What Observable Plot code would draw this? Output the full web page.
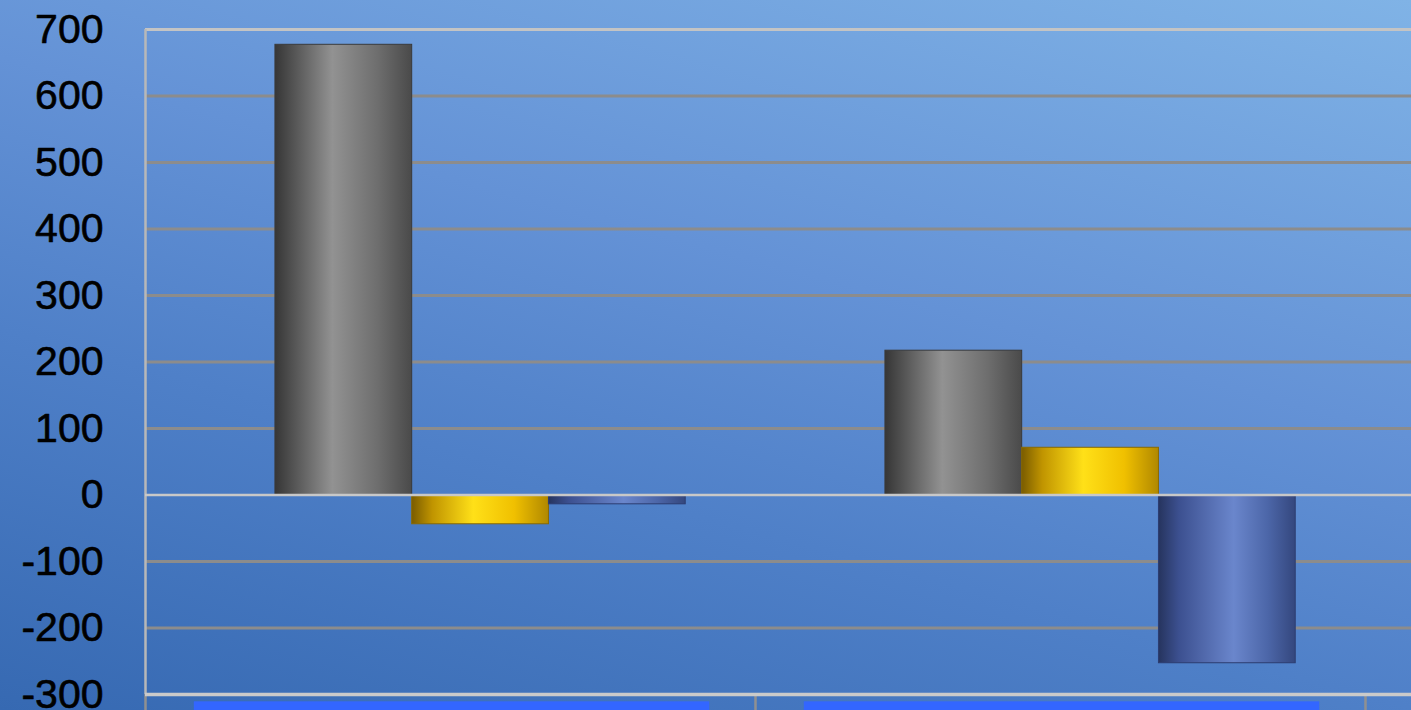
<!DOCTYPE html>
<html>
<head>
<meta charset="utf-8">
<script src="https://cdn.jsdelivr.net/npm/d3@7"></script>
<script src="https://cdn.jsdelivr.net/npm/@observablehq/plot@0.6"></script>
<style>
  html, body { margin: 0; padding: 0; overflow: hidden; }
  #chart svg { display: block; }
</style>
</head>
<body>
<div id="chart"></div>
<script>
// ---- data ----
const categories = ["Group 1", "Group 2"];
const series = ["Series 1", "Series 2", "Series 3"];
const values = [
  [677, -44, -14],   // Group 1
  [217, 71, -253]    // Group 2
];
const yTicks = [-300, -200, -100, 0, 100, 200, 300, 400, 500, 600, 700];

// ---- derived table ----
const groupPad = 0.213;   // fraction of a category band before the first bar
const barW = 0.2242;      // bar width as fraction of category band
const rows = [];
categories.forEach((c, g) => {
  series.forEach((s, i) => {
    rows.push({category: c, series: s, si: i, value: values[g][i],
               x1: g + groupPad + i * barW, x2: g + groupPad + (i + 1) * barW});
  });
});
const labelBoxes = categories.map((c, g) => ({category: c, x1: g + 0.08, x2: g + 0.925}));

const W = 1411, H = 710, mL = 145, mT = 29, mB = 16;
const band = 610;
const xMax = (W - mL) / band;

const grads = ["gGray", "gGold", "gBlue"];
const strokes = ["#3a3a3a", "#8a6a00", "#2c3c70"];

const chart = Plot.plot({
  width: W,
  height: H,
  marginLeft: mL,
  marginRight: 0,
  marginTop: mT,
  marginBottom: mB,
  style: {
    background: "linear-gradient(15deg, #3669b2 0%, #4f80c8 35%, #6492d6 60%, #80b3e6 100%)",
    overflow: "visible"
  },
  x: {type: "linear", domain: [0, xMax], axis: null},
  y: {type: "linear", domain: [-300, 700], axis: null},
  color: {type: "identity"},
  marks: [
    // gridlines
    Plot.ruleY(yTicks.filter(d => d !== 700 && d !== -300 && d !== 0), {stroke: "#8c8c8c", strokeWidth: 3}),
    Plot.ruleY([700], {stroke: "#c4c4c4", strokeWidth: 3}),
    // left axis line
    Plot.ruleX([0], {y1: 700, y2: -300, stroke: "#b8b8b8", strokeWidth: 2.5}),
    // category ticks
    Plot.ruleX([0, 1, 2], {y1: -300, y2: -330, stroke: "#909090", strokeWidth: 2.5}),
    // bars
    Plot.rectY(rows, {
      x1: "x1", x2: "x2", y1: 0, y2: "value",
      fill: d => `url(#${grads[d.si]})`,
      stroke: d => strokes[d.si],
      strokeWidth: 1
    }),
    // zero line & bottom axis
    Plot.ruleY([0], {stroke: "#c8c8c8", strokeWidth: 2.5}),
    Plot.ruleY([-300], {stroke: "#cacaca", strokeWidth: 3.5}),
    // category label boxes (below axis)
    Plot.rect(labelBoxes, {x1: "x1", x2: "x2", y1: -311, y2: -340, fill: "#3366ff"}),
    // y tick labels
    Plot.text(yTicks, {
      x: 0, y: d => d, text: d => String(d),
      textAnchor: "end", dx: -42,
      fill: "#000", fontSize: 41, fontFamily: "Liberation Sans, Arial, sans-serif",
      stroke: "#000", strokeWidth: 0.6
    })
  ]
});

// gradient definitions for the cylinder-like bars
const defs = d3.select(chart).insert("defs", ":first-child");
const gdefs = {
  gGray: [["0%", "#363636"], ["12%", "#505050"], ["42%", "#929292"], ["75%", "#6e6e6e"], ["100%", "#4a4a4a"]],
  gGold: [["0%", "#7a5c00"], ["15%", "#c09400"], ["45%", "#ffe018"], ["75%", "#f0c000"], ["100%", "#b08800"]],
  gBlue: [["0%", "#26345e"], ["15%", "#3c5090"], ["55%", "#6a86cc"], ["80%", "#4c66a8"], ["100%", "#34477e"]]
};
for (const [id, stops] of Object.entries(gdefs)) {
  const g = defs.append("linearGradient").attr("id", id)
    .attr("x1", "0%").attr("x2", "100%").attr("y1", "0%").attr("y2", "0%");
  for (const [o, c] of stops) g.append("stop").attr("offset", o).attr("stop-color", c);
}

document.getElementById("chart").appendChild(chart);
</script>
</body>
</html>
